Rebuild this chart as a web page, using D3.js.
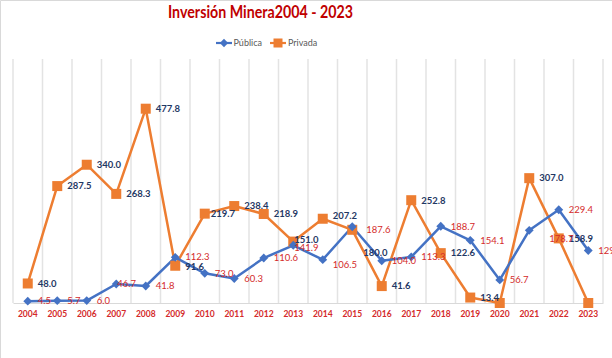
<!DOCTYPE html>
<html><head><meta charset="utf-8">
<script src="https://cdn.jsdelivr.net/npm/d3@7"></script>
<style>html,body{margin:0;padding:0;background:#fff;}svg{display:block;}</style>
</head><body>
<script>
const years = ["2004","2005","2006","2007","2008","2009","2010","2011","2012","2013","2014","2015","2016","2017","2018","2019","2020","2021","2022","2023"];
const publica = [4.5,5.7,6.0,46.7,41.8,112.3,73.0,60.3,110.6,141.9,106.5,187.6,104.0,113.3,188.7,154.1,56.7,178.7,229.4,129.0];
const privada = [48.0,287.5,340.0,268.3,477.8,91.6,219.7,238.4,218.9,151.0,207.2,180.0,41.6,252.8,122.6,13.4,0,307.0,158.9,0];
const seriesNames = ["Pública","Privada"];
const titleText = "Inversión Minera2004 - 2023";

// label nudges (display only)
const nudgePub = {"2007":[1,0],"2009":[10,-1],"2013":[1,2],"2014":[10,5],"2015":[14,3],"2021":[20,8]};
const nudgePriv = {"2009":[10,1],"2010":[6,0],"2013":[1,-2],"2014":[10,-3],"2015":[11,23]};

const W = 612, H = 358;
const svg = d3.select("body").append("svg").attr("width", W).attr("height", H);
const font = "Lato, 'Open Sans', sans-serif";

// chart border (left/top)
svg.append("path").attr("d","M0.5,358 V0.5 H612").attr("fill","none").attr("stroke","#d9d9d9");

const x = d3.scaleBand().domain(years).range([13, 603]).padding(0);
const y = d3.scaleLinear().domain([0, 600]).range([303, 59]);
const cx = d => x(d) + x.bandwidth()/2;

// vertical gridlines at category boundaries
const bounds = years.map(d => x(d)).concat([x(years[years.length-1]) + x.bandwidth()]);
svg.append("g").selectAll("line").data(bounds).join("line")
  .attr("x1", d=>d).attr("x2", d=>d).attr("y1", y(600)).attr("y2", y(0))
  .attr("stroke", "#e3e3e3").attr("stroke-width", 1.5);

// x axis
const xAxis = svg.append("g").attr("transform", `translate(0,${y(0)})`)
  .call(d3.axisBottom(x).tickSize(0).tickPadding(8));
xAxis.select(".domain").attr("stroke", "#d9d9d9").attr("stroke-width", 1.2);
xAxis.selectAll("text").attr("fill", "#d42a2a").attr("font-family", font)
  .attr("font-size", "8.5px").attr("font-weight", "bold");

// title
svg.append("text").attr("x", 260.5).attr("y", 18).attr("text-anchor", "middle")
  .attr("font-family", font).attr("font-weight", "bold").attr("font-size", "16.5px")
  .attr("textLength", 185).attr("lengthAdjust", "spacingAndGlyphs")
  .attr("fill", "#c00000").text(titleText);

const blue = "#4472c4", orange = "#ed7d31";

// legend
const lg = svg.append("g").attr("font-family", font).attr("font-size", "9px").attr("fill", "#595959");
lg.append("line").attr("x1", 216).attr("x2", 232).attr("y1", 43).attr("y2", 43).attr("stroke", blue).attr("stroke-width", 2.2);
lg.append("path").attr("d", d3.symbol(d3.symbolDiamond2, 44)()).attr("transform", "translate(224,43)").attr("fill", blue);
lg.append("text").attr("x", 233.5).attr("y", 46).text(seriesNames[0]);
lg.append("line").attr("x1", 270).attr("x2", 286).attr("y1", 43).attr("y2", 43).attr("stroke", orange).attr("stroke-width", 2.2);
lg.append("rect").attr("x", 273.5).attr("y", 38.5).attr("width", 9).attr("height", 9).attr("fill", orange);
lg.append("text").attr("x", 288).attr("y", 46).text(seriesNames[1]);

const line = d3.line().x((d,i)=>cx(years[i])).y(d=>y(d));

// Privada series
svg.append("path").datum(privada).attr("d", line).attr("fill","none").attr("stroke", orange).attr("stroke-width", 2.5).attr("stroke-linejoin","round");
// Pública series
svg.append("path").datum(publica).attr("d", line).attr("fill","none").attr("stroke", blue).attr("stroke-width", 2.5).attr("stroke-linejoin","round");

svg.append("g").selectAll("rect").data(privada).join("rect")
  .attr("x",(d,i)=>cx(years[i])-5).attr("y", d=>y(d)-5).attr("width",10).attr("height",10).attr("fill", orange);
svg.append("g").selectAll("path").data(publica).join("path")
  .attr("d", d3.symbol(d3.symbolDiamond2, 50)())
  .attr("transform",(d,i)=>`translate(${cx(years[i])},${y(d)})`).attr("fill", blue);

// data labels
function labels(vals, nudge, color, weight){
  svg.append("g").selectAll("text").data(vals.map((v,i)=>({v, yr: years[i]})).filter(d=>d.v>0)).join("text")
    .attr("x", d => cx(d.yr) + (nudge[d.yr] ? nudge[d.yr][0] : 10))
    .attr("y", d => y(d.v) + (nudge[d.yr] ? nudge[d.yr][1] : 0))
    .attr("dy", "0.35em")
    .attr("font-family", font).attr("font-size", "9.5px").attr("font-weight", weight)
    .attr("fill", color).text(d => d.v.toFixed(1));
}
labels(privada, nudgePriv, "#1f3864", "bold");
labels(publica, nudgePub, "#d42a2a", "normal");
</script>
</body></html>
